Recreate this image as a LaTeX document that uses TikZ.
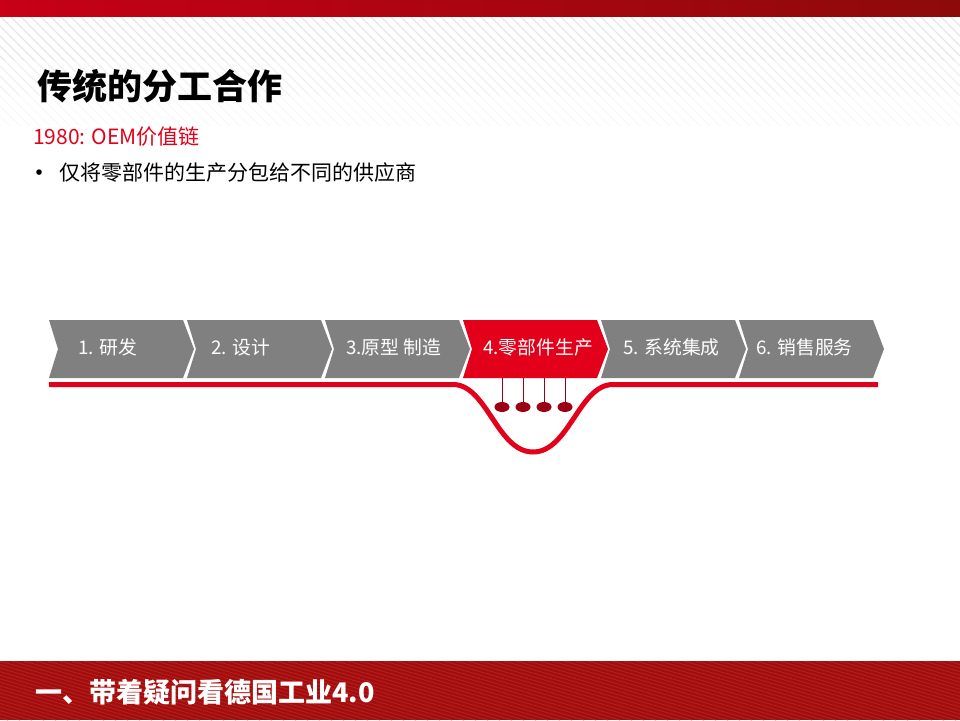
\documentclass[tikz,border=0pt]{standalone}
\usepackage{fontspec}
\newfontfamily\cjk{Noto Sans CJK SC}
\usetikzlibrary{shapes.geometric}
\definecolor{mred}{HTML}{E2001A}
\definecolor{dred}{HTML}{9B0014}
\definecolor{barred}{HTML}{A50C0C}
\definecolor{chgray}{HTML}{808080}
\definecolor{stripe}{HTML}{E6E6E6}
\tikzset{
  chev/.style={fill=chgray},
  chevred/.style={fill=mred},
  chevtext/.style={text=white, font=\cjk\fontsize{18.8}{20}\selectfont, inner sep=0pt, anchor=west},
  redline/.style={draw=mred, line width=5pt},
  pendline/.style={draw=dred, line width=1pt},
  pend/.style={ellipse, fill=dred, minimum width=15pt, minimum height=10pt, inner sep=0pt},
}
\begin{document}
\begin{tikzpicture}[x=1pt,y=-1pt]
\useasboundingbox (0,0) rectangle (960,720);
% background stripes
\begin{scope}
  \clip (0,16) rectangle (960,60);
  \foreach \k in {-20,...,110} {\draw[stripe, line width=1.2pt] (\k*10,16) -- (\k*10+150,166);}
\end{scope}
\begin{scope}
  \clip (0,60) rectangle (960,95);
  \foreach \k in {-20,...,110} {\draw[stripe!60, line width=1.2pt] (\k*10,16) -- (\k*10+150,166);}
\end{scope}
\begin{scope}
  \clip (0,95) rectangle (960,125);
  \foreach \k in {-20,...,110} {\draw[stripe!30, line width=1.2pt] (\k*10,16) -- (\k*10+150,166);}
\end{scope}
% top bar
\shade[left color=mred!88!black, right color=barred!85!black] (0,0) rectangle (960,16);
% bottom bar
\fill[barred] (0,661) rectangle (960,720);
\begin{scope}
  \clip (0,661) rectangle (960,720);
  \foreach \k in {-20,...,110} {\draw[barred!90!white, line width=0.8pt] (\k*12,661) -- (\k*12+200,720);}
\end{scope}
% titles
\node[anchor=west, inner sep=0pt, font=\cjk\bfseries\fontsize{35}{40}\selectfont] (title) at (37,86) {传统的分工合作};
\node[anchor=west, inner sep=0pt, text=mred, font=\cjk\fontsize{21}{24}\selectfont] (sub) at (33,137) {1980: OEM价值链};
\node[anchor=base, inner sep=0pt, font=\cjk\fontsize{26}{28}\selectfont] (bul) at (39,182) {•};
\node[anchor=west, inner sep=0pt, font=\cjk\fontsize{21}{24}\selectfont] (btext) at (59,173) {仅将零部件的生产分包给不同的供应商};
\node[anchor=west, inner sep=0pt, text=white, font=\cjk\bfseries\fontsize{27}{32}\selectfont] (foot) at (35,692) {一、带着疑问看德国工业4.0};
% chevrons
\foreach \i/\L/\tx/\st/\t in {1/49/78/chev/{1. 研发},2/187/211/chev/{2. 设计},3/325/346/chev/{3.原型 制造},4/463/483/chevred/{4.零部件生产},5/601/623/chev/{5. 系统集成},6/739/756/chev/{6. 销售服务}} {
  \fill[\st] (\L,320) -- (\L+134,320) -- (\L+145,349) -- (\L+134,378) -- (\L,378) -- (\L+9,349) -- cycle;
  \node[chevtext] (c\i) at (\tx,347) {\t};
}
% red line with dip
\draw[redline] (49,384.5) -- (453,384.5) .. controls (487,384.5) and (497,452) .. (533,452) .. controls (569,452) and (579,384.5) .. (613,384.5) -- (878,384.5);
% pendants
\foreach \j/\x in {1/502,2/523,3/544,4/565} {
  \node[pend] (p\j) at (\x,407) {};
  \coordinate (t\j) at (\x,378);
  \draw[pendline] (t\j) -- (p\j);
}
\end{tikzpicture}
\end{document}
